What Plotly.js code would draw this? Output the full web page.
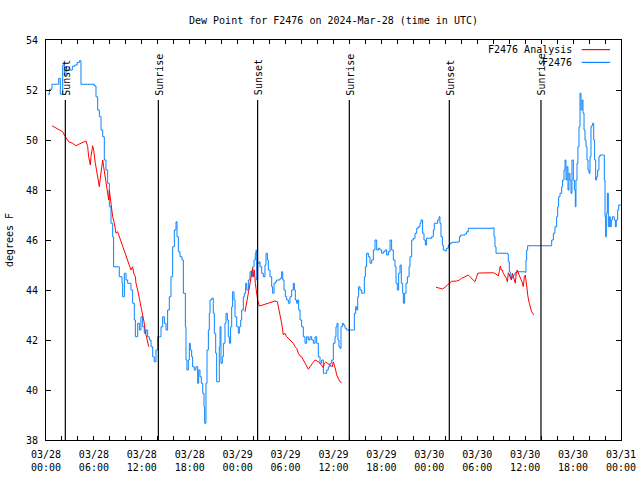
<!DOCTYPE html>
<html>
<head>
<meta charset="utf-8">
<script src="https://cdn.plot.ly/plotly-3.0.1.min.js"></script>
<style>html,body{margin:0;padding:0;background:#fff}#chart{width:640px;height:480px}</style>
</head>
<body>
<div id="chart"></div>
<script>
// Hours since 2024-03-28 00:00 UTC
const obsHours = [0.21,0.42,0.75,1.46,1.59,1.79,2.09,2.30,2.5,2.9,3.3,3.6,3.9,4.17,4.38,6.05,6.26,6.47,6.68,6.89,7.1,7.30,7.51,7.72,7.93,8.14,8.35,8.47,9.1,9.18,9.52,9.6,9.81,10.02,10.23,10.64,10.85,11.06,11.19,11.48,11.69,11.89,12.1,12.31,12.52,12.73,12.94,13.15,13.36,13.56,13.77,13.98,14.19,14.4,14.61,14.82,15.03,15.23,15.44,15.65,15.86,16.07,16.28,16.4,16.57,16.78,17.03,17.2,17.45,17.53,17.65,17.82,17.95,18.07,18.24,18.36,18.57,18.78,18.99,19.12,19.28,19.45,19.62,19.78,19.87,20.03,20.16,20.33,20.45,
20.54,20.75,20.95,21.08,21.25,21.37,21.58,21.7,21.79,21.91,22.08,22.21,22.41,22.54,22.71,22.83,22.96,23.12,23.25,23.37,23.54,23.67,23.88,24.08,24.21,24.38,24.5,24.71,24.84,25.0,25.13,25.34,25.54,25.75,25.88,26.05,26.21,26.3,26.38,26.5,26.71,26.8,27.01,27.21,27.42,27.55,27.72,27.84,28.05,28.26,28.38,28.55,28.72,28.88,29.09,29.3,29.51,29.64,29.8,29.97,30.14,30.35,30.55,30.76,30.97,31.1,31.22,31.39,31.51,31.64,31.81,32.01,32.22,32.43,32.64,32.85,33.06,33.27,33.48,33.69,33.89,34.1,34.31,34.52,34.73,34.94,35.15,35.35,35.56,35.77,35.98,36.19,36.31,36.44,36.56,36.69,36.81,36.94,37.11,37.23,37.44,37.65,37.98,38.28,38.48,38.61,38.78,38.9,39.03,39.15,39.32,39.53,39.74,39.86,39.99,40.15,40.36,40.57,40.78,40.99,41.2,41.41,41.62,41.82,42.03,42.24,42.45,42.66,42.87,43.08,43.28,43.49,43.7,43.83,43.99,44.16,44.33,44.49,44.66,44.75,44.91,45.08,45.25,45.46,45.58,45.79,46.0,46.21,46.42,46.62,46.83,
46.96,47.16,47.33,47.5,47.66,48.08,48.29,48.5,48.62,48.83,49.04,49.21,49.33,49.46,49.63,49.75,49.96,50.17,50.38,50.59,50.8,51.42,51.63,51.76,51.92,52.26,52.46,52.67,52.88,56.01,56.1,56.22,56.35,57.77,57.89,58.02,58.14,58.27,58.39,58.52,58.73,58.93,59.98,60.1,60.19,60.31,63.11,63.32,63.53,63.73,63.94,64.07,64.19,64.36,64.57,64.69,64.86,64.99,65.11,65.24,65.36,65.49,65.61,65.74,65.86,66.03,66.16,66.28,66.36,66.49,66.61,66.74,66.87,66.99,67.12,67.24,67.37,67.49,67.62,67.74,67.87,67.99,68.12,68.24,68.37,68.45,68.58,68.7,68.83,68.95,69.08,69.24,69.37,69.79,69.91,70.0,70.08,70.16,70.29,70.41,70.54,70.66,70.79,70.91,71.04,71.16,71.29,71.41,71.58,71.71,72.0];
const obsDew = [51.83,52.03,52.23,52.23,52.47,51.83,53.0,52.6,52.93,52.8,52.95,53.0,53.1,53.17,52.23,52.16,51.73,51.2,50.93,50.4,50.13,49.2,48.8,48.27,47.33,46.67,46.13,44.93,44.93,44.53,44.27,43.73,44.67,44.4,44.27,44.0,43.47,42.8,42.13,42.67,42.4,42.93,42.53,42.27,42.4,42.13,42.0,41.73,41.33,41.13,41.6,42.13,42.13,42.53,42.93,42.67,42.4,43.2,43.73,44.53,45.73,46.4,46.73,46.13,45.53,45.33,45.2,43.87,42.53,41.2,40.8,41.2,41.87,41.6,41.33,40.93,40.8,40.93,40.27,40.8,40.53,40.27,39.87,39.33,38.67,40.27,41.6,42.4,43.07,
43.6,43.67,43.07,42.27,41.47,40.33,40.33,41.73,42.53,41.07,41.33,41.87,42.67,43.07,42.8,42.13,41.87,42.53,43.33,43.93,43.6,42.93,42.53,42.27,42.53,42.8,43.2,43.73,43.87,44.27,44.0,44.4,44.73,44.53,44.93,45.2,45.47,45.6,44.4,45.07,45.13,44.93,44.67,44.53,45.0,45.47,45.2,44.8,44.53,44.13,43.87,44.27,44.33,44.4,44.4,44.47,44.73,44.4,44.0,43.73,43.6,43.47,43.73,44.0,44.27,44.0,43.6,43.47,43.6,43.2,42.8,42.53,42.13,41.87,42.13,42.0,42.13,42.0,41.87,42.13,41.87,41.33,41.07,41.2,40.67,40.67,40.8,40.93,41.07,41.2,41.87,42.13,42.53,42.67,42.0,41.73,41.67,42.53,42.67,42.6,42.47,42.4,42.4,42.4,42.4,43.07,43.33,43.2,43.73,44.13,44.0,43.87,43.87,44.53,44.93,45.47,45.33,45.07,45.2,45.6,46.0,45.6,45.67,45.6,45.47,45.53,45.6,45.4,45.53,46.0,45.6,45.2,44.93,44.27,44.0,44.67,45.0,44.27,43.87,43.47,43.87,44.27,44.53,44.93,45.33,46.0,46.07,46.27,46.47,46.53,46.67,
46.8,46.27,46.0,45.8,46.07,46.07,46.13,46.4,46.67,46.67,46.8,46.93,46.67,46.13,45.8,45.6,45.57,45.67,45.8,45.87,45.91,45.91,45.93,46.13,46.2,46.2,46.24,46.33,46.47,46.49,46.13,45.73,45.47,45.44,45.13,44.73,44.53,44.47,44.53,44.6,44.69,44.73,44.71,45.2,45.6,45.77,45.77,46.0,46.27,46.53,46.93,47.33,47.73,47.87,48.13,48.4,48.8,49.2,48.4,48.93,48.0,48.67,48.4,47.87,49.2,48.4,48.0,47.33,48.4,49.07,49.73,50.53,51.87,51.2,51.6,51.07,50.4,50.0,49.73,49.2,48.8,48.67,49.33,50.53,50.6,50.67,50.0,49.2,48.4,48.53,48.8,49.33,49.4,49.4,48.4,46.93,46.13,47.07,47.87,46.53,46.93,46.53,46.8,46.93,46.93,46.8,46.53,46.8,47.2,47.4,47.4];

const anaHours = [0.75,1.25,1.67,2.09,2.3,2.5,2.84,3.34,3.76,4.17,4.59,5.01,5.22,5.34,5.55,5.63,5.84,5.97,6.18,6.34,6.47,6.59,6.68,6.8,6.93,7.1,7.22,7.39,7.6,7.72,7.85,7.93,8.14,8.35,8.56,8.76,8.97,9.18,9.39,9.6,9.81,10.02,10.23,10.43,10.64,10.85,10.98,11.19,11.27,11.48,11.69,11.89,12.02,12.19,12.31,12.44,12.6,12.73,12.86,
18.9,
24.92,25.13,25.34,25.46,25.63,25.75,25.88,25.96,26.09,26.21,26.3,26.38,26.5,26.71,27.01,27.42,27.84,28.26,28.68,28.97,29.18,29.39,29.51,29.72,29.93,30.14,30.35,30.55,30.76,30.97,31.18,31.39,31.6,31.81,32.01,32.22,32.43,32.64,32.85,33.06,33.27,33.48,33.69,33.89,34.1,34.31,34.52,34.73,34.85,35.02,35.23,35.44,35.65,35.85,35.98,36.1,36.27,36.4,36.61,36.81,37.02,
43.0,
48.83,49.13,49.42,49.67,49.96,50.17,50.5,50.8,51.0,51.42,51.76,52.05,52.46,52.88,53.09,53.43,53.72,53.93,54.05,54.34,54.76,55.18,55.6,56.01,56.35,56.64,56.76,56.89,57.01,57.14,57.26,57.39,57.52,57.64,57.77,57.89,58.02,58.14,58.27,58.39,58.52,58.64,58.77,58.89,59.02,59.19,59.35,59.48,59.6,59.77,59.89,60.02,60.1,60.23,60.35,60.52,60.69,60.81,60.94,61.06];
const anaDew = [50.57,50.47,50.4,50.33,50.2,50.11,49.93,49.87,49.77,49.84,49.91,49.96,49.73,49.33,49.0,49.33,49.77,49.6,49.07,48.8,48.53,48.33,48.13,48.47,48.8,49.2,48.93,48.53,48.13,47.73,47.6,48.0,47.33,46.93,46.67,46.27,46.33,46.13,45.93,45.73,45.6,45.4,45.2,45.0,44.8,44.93,44.67,44.53,44.27,44.0,43.67,43.47,43.2,42.93,42.67,42.33,42.13,41.93,41.73,
null,
43.13,43.47,43.87,44.13,44.4,44.73,44.87,44.53,44.8,44.27,44.07,43.73,43.6,43.36,43.4,43.43,43.47,43.51,43.56,43.53,43.2,42.93,42.67,42.2,42.27,42.13,42.07,42.0,41.93,41.87,41.73,41.67,41.47,41.36,41.33,41.2,41.07,40.93,40.83,40.93,41.04,41.12,41.2,41.17,41.13,41.07,40.97,40.89,41.07,41.11,41.07,41.03,40.97,40.93,41.13,40.93,40.8,40.6,40.47,40.33,40.29,
null,
44.11,44.08,44.04,44.04,44.11,44.17,44.29,44.35,44.35,44.36,44.4,44.47,44.53,44.6,44.53,44.44,44.33,44.53,44.67,44.68,44.69,44.69,44.69,44.69,44.64,44.56,44.73,44.96,44.8,44.8,44.67,44.6,44.51,44.47,44.33,44.69,44.6,44.47,44.4,44.67,44.53,44.4,44.27,44.67,44.8,44.64,44.53,44.43,44.33,44.13,44.53,44.6,44.33,44.0,43.73,43.47,43.2,43.13,43.07,43.0];

const sunHours = [2.42, 14.07, 26.5, 37.98, 50.5, 61.98];
const sunLabels = ["Sunset", "Sunrise", "Sunset", "Sunrise", "Sunset", "Sunrise"];

const tickHours = [];
const tickLabels = [];
const dayNames = ["03/28","03/29","03/30","03/31"];
for (let h = 0; h <= 72; h += 2) {
  tickHours.push(h);
  if (h % 6 === 0) {
    const d = dayNames[Math.floor(h / 24)];
    const hh = String(h % 24).padStart(2, "0");
    tickLabels.push(d + "<br>" + hh + ":00");
  } else {
    tickLabels.push("");
  }
}

const seriesNames = ["F2476 Analysis", "F2476"];
const seriesColors = ["#ff0000", "#0a84ff"];

const FONT = "DejaVu Sans Mono, monospace";

const traces = [
  {x: obsHours, y: obsDew, type: "scatter", mode: "lines", name: seriesNames[1],
   line: {color: seriesColors[1], width: 1, shape: "hv"}, showlegend: false},
  {x: anaHours, y: anaDew, type: "scatter", mode: "lines", name: seriesNames[0],
   line: {color: seriesColors[0], width: 1}, connectgaps: false, showlegend: false}
];

const shapes = [];
const annotations = [];
sunHours.forEach((h, i) => {
  shapes.push({type: "line", xref: "x", yref: "y", x0: h, x1: h, y0: 38, y1: 51.6,
               line: {color: "#000", width: 1.2}});
  annotations.push({x: h, y: 51.7, xref: "x", yref: "y", text: sunLabels[i],
                    textangle: -90, showarrow: false, xanchor: "center", yanchor: "bottom",
                    xshift: 1, font: {family: FONT, size: 10, color: "#000"}});
});

// legend in gnuplot style: text right, line sample right
const legY = [0.976, 0.944];
seriesNames.forEach((n, i) => {
  annotations.push({x: 0.919, y: legY[i], xref: "paper", yref: "paper", text: n,
                    showarrow: false, xanchor: "right", yanchor: "middle",
                    font: {family: FONT, size: 10, color: "#000"}});
  shapes.push({type: "line", xref: "paper", yref: "paper", x0: 0.9317, x1: 0.981,
               y0: legY[i], y1: legY[i], line: {color: seriesColors[i], width: 1.2}});
});

const layout = {
  width: 640, height: 480,
  margin: {l: 46, r: 19, t: 40, b: 40},
  paper_bgcolor: "#fff", plot_bgcolor: "#fff",
  font: {family: FONT, size: 10, color: "#000"},
  title: {text: "Dew Point for F2476 on 2024-Mar-28 (time in UTC)",
          x: 0.5, xref: "paper", y: 0.958, yref: "container", yanchor: "middle",
          font: {family: FONT, size: 10, color: "#000"}},
  xaxis: {range: [0, 72], tickmode: "array", tickvals: tickHours, ticktext: tickLabels,
          ticks: "inside", ticklen: 4, tickcolor: "#000", tickwidth: 1,
          showline: true, linecolor: "#000", linewidth: 1, mirror: "allticks",
          showgrid: false, zeroline: false, automargin: false, ticklabelstandoff: 5,
          tickfont: {family: FONT, size: 10, color: "#000"}},
  yaxis: {range: [38, 54], dtick: 2, tick0: 38, ticks: "inside", ticklen: 5,
          tickcolor: "#000", showline: true, linecolor: "#000", linewidth: 1,
          mirror: "allticks", showgrid: false, zeroline: false, automargin: false,
          ticklabelstandoff: 5,
          title: {text: "degrees F", standoff: 10, font: {family: FONT, size: 10, color: "#000"}},
          tickfont: {family: FONT, size: 10, color: "#000"}},
  shapes: shapes,
  annotations: annotations,
  showlegend: false
};

Plotly.newPlot("chart", traces, layout, {staticPlot: true, displayModeBar: false});
</script>
</body>
</html>
